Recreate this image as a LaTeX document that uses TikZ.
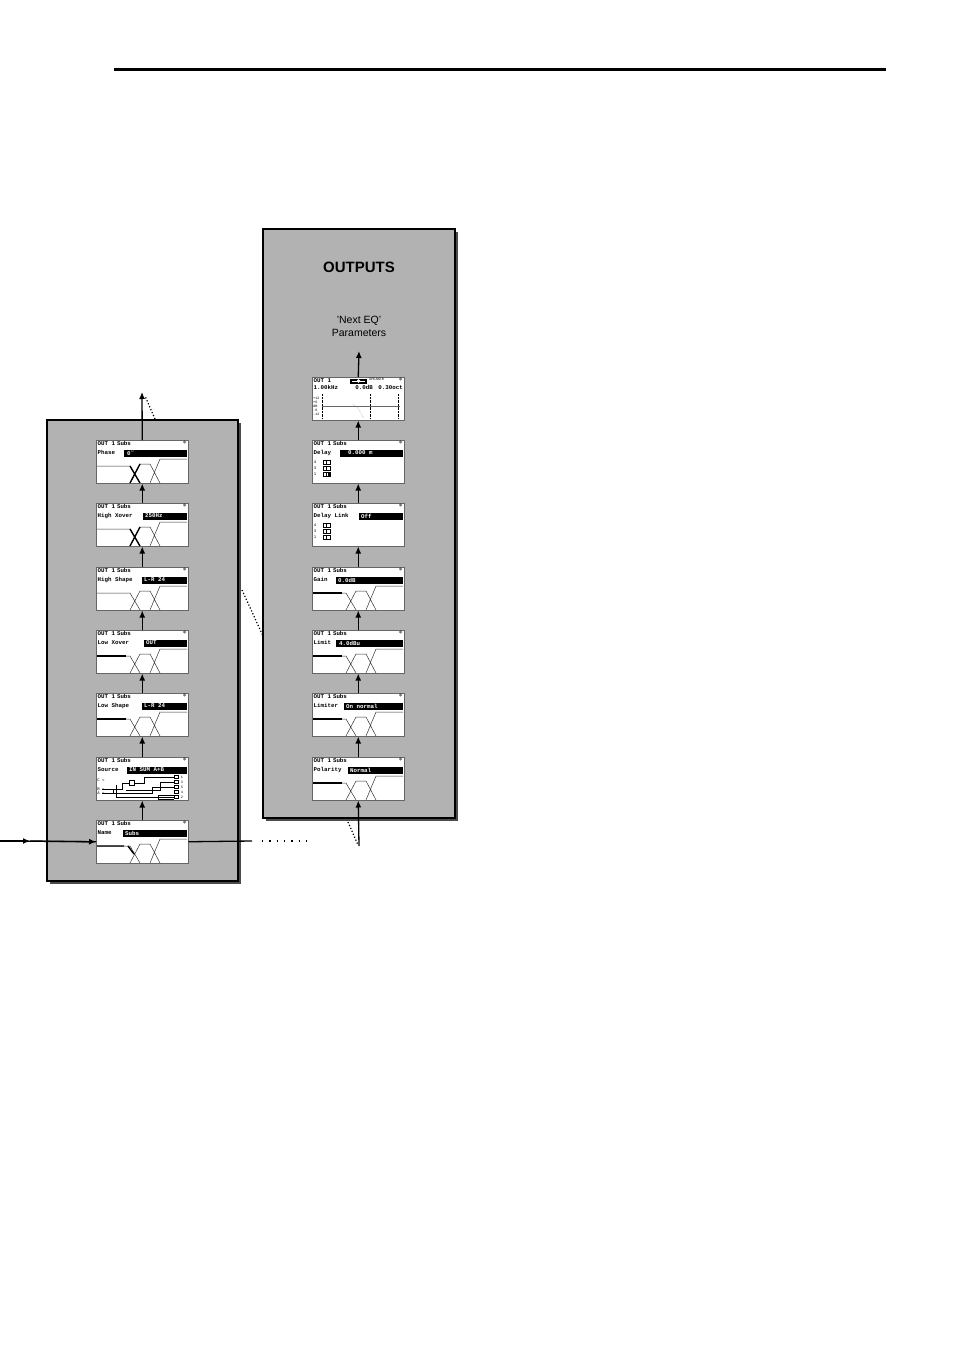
\documentclass[tikz,border=0pt]{standalone}
\usepackage{fontspec}
\setmainfont{Liberation Sans}
\newfontfamily\lcdf{Liberation Mono}
\begin{document}
\begin{tikzpicture}[x=1pt,y=-1pt,
 panel/.style={fill=black!30,draw=black,line width=2pt},
 shadow/.style={fill=black!70},
 lcdbox/.style={draw=black!60,fill=white,line width=0.5pt,anchor=north west,minimum width=92pt,minimum height=43pt,inner sep=0pt},
 lcdt/.style={font=\lcdf\bfseries\fontsize{5.8}{6}\selectfont,inner sep=0pt},
 flow/.style={line width=1.3pt,-{Latex[length=7pt,width=6pt]}},
 dots/.style={line width=1.2pt,dotted},
 crv/.style={line width=0.5pt,black!80},
 thk/.style={line width=1.4pt}]
\usetikzlibrary{arrows.meta}
\useasboundingbox (0,0) rectangle (954,1351);
\fill[white] (0,0) rectangle (954,1351);
\draw[line width=3pt] (114,70) -- (886,70);
% panels
\fill[shadow] (50,423) rectangle (241,884);
\draw[panel] (47,420) rectangle (238,881);
\fill[shadow] (266,232) rectangle (458,821);
\draw[panel] (263,229) rectangle (455,818);
\node[font=\bfseries\fontsize{15}{16}\selectfont] (title) at (359,267) {OUTPUTS};
\node[font=\fontsize{10.5}{13}\selectfont,align=center] (sub) at (359,326) {'Next EQ'\\Parameters};
\newcommand\lcd[7]{%
 \node[lcdbox] (#1) at (#2,#3) {};
 \begin{scope}[shift={(#2,#3)}]
 \node[lcdt,anchor=north west] at (1.5,1.5) {OUT 1\,\,Subs};
 \node[lcdt,anchor=north east,font=\fontsize{8}{8}\selectfont] at (91,0.5) {$\ast$};
 \node[lcdt,anchor=north west] at (1.5,10) {#4};
 \fill (#6,9.5) rectangle (91,16.5);
 \node[lcdt,anchor=west,text=white] at (#6+2,13) {#5};
 \ifnum#7>0
 \draw[crv] (1,26)--(34,26)--(44,43) (34,43)--(44,24)--(54,24)--(64,43) (54,43)--(64,19)--(91,19);
 \fi
 \ifnum#7=2 \draw[thk] (1,26)--(30,26); \fi
 \ifnum#7=3 \draw[thk] (34,26)--(44,43) (34,43)--(44,24); \fi
 \ifnum#7=4 \draw[thk] (1,26)--(28,26) (32,26)--(38,34); \fi
 \end{scope}}
% left column
\lcd{lp}{96}{440}{Phase}{\,0$^\circ$}{28}{3}
\lcd{lhx}{96}{503}{High Xover}{250Hz}{47}{3}
\lcd{lhs}{96}{567}{High Shape}{L-R 24}{46}{1}
\lcd{llx}{96}{630}{Low Xover}{OUT}{48}{2}
\lcd{lls}{96}{693}{Low Shape}{L-R 24}{46}{2}
\lcd{lsrc}{96}{757}{Source}{IN SUM A+B}{31}{0}
\lcd{lname}{96}{820}{Name}{Subs}{27}{4}
% source routing sketch
\begin{scope}[shift={(96,757)},line width=0.5pt]
 \node[lcdt,anchor=west,font=\lcdf\fontsize{4}{4}\selectfont] at (1,23) {C =};
 \node[lcdt,anchor=west,font=\lcdf\fontsize{4}{4}\selectfont] at (1,32) {B =};
 \node[lcdt,anchor=west,font=\lcdf\fontsize{4}{4}\selectfont] at (1,36) {A =};
 \draw (6,32)--(26,32)--(26,26)--(33,26); \draw (33,23) rectangle (38,28);
 \draw (38,26)--(48,26)--(48,20)--(78,20);
 \draw (6,36)--(56,36)--(56,30)--(78,30);
 \draw (17,32)--(17,36)--(20,36) (20,28)--(20,40)--(78,40);
 \draw (30,33)--(64,33)--(64,25)--(78,25);
 \draw (62,38)--(78,38) (62,38)--(62,42)--(78,42);
 \foreach \yy in {20,25,30,35,40} \draw (78,\yy-1.5) rectangle (82,\yy+1.5);
 \foreach \yy/\tt in {20/1,25/3,30/5,35/4,40/2} \node[lcdt,font=\lcdf\fontsize{3.5}{4}\selectfont] at (86,\yy) {\tt};
\end{scope}
% right column
\node[lcdbox] (req) at (312,377) {};
\begin{scope}[shift={(312,377)}]
 \node[lcdt,anchor=north west] at (1.5,1.5) {OUT 1};
 \fill (38,1.5) rectangle (55,7); \draw[white,line width=0.5pt] (40,4)--(53,4); \draw[white,fill=white] (46.5,4) circle (1.5);
 \node[lcdt,anchor=north west,font=\lcdf\fontsize{3.5}{4}\selectfont] at (57,1) {SPEAKER};
 \node[lcdt,anchor=north east,font=\fontsize{8}{8}\selectfont] at (91,0.5) {$\ast$};
 \node[lcdt,anchor=north west] at (1.5,8.5) {1.00kHz};
 \node[lcdt,anchor=north east] at (61,8.5) {0.0dB};
 \node[lcdt,anchor=north east] at (91,8.5) {0.30oct};
 \draw[black!60,line width=0.8pt] (10,29)--(88,29);
 \draw[line width=0.4pt,densely dotted] (10,17)--(10,42) (58,17)--(58,42) (86,17)--(86,42);
 \draw[black!50,densely dotted] (40,27)--(46,31)--(52,42);
 \node[lcdt,anchor=west,font=\lcdf\fontsize{3.5}{4}\selectfont,align=left] at (1,29) {+12\\+6\\dB\\-6\\-12};
\end{scope}
\lcd{rdel}{312}{440}{Delay}{\hspace{6pt}0.000 m}{28}{0}
\lcd{rdl}{312}{503}{Delay Link}{Off}{47}{0}
\foreach \sy in {440,503}{
 \begin{scope}[shift={(312,\sy)},line width=0.5pt]
 \foreach \yy/\tt in {22/4,28/3,34/1}{
  \node[lcdt,font=\lcdf\fontsize{4}{4}\selectfont] at (3,\yy) {\tt};
  \draw (11,\yy-2) rectangle (14,\yy+2) (14,\yy-2) rectangle (18,\yy+2);}
 \end{scope}}
\fill (328,472) rectangle (330,476);
\lcd{rg}{312}{567}{Gain}{0.0dB}{24}{2}
\lcd{rlim}{312}{630}{Limit}{\,4.0dBu}{24}{2}
\lcd{rlmr}{312}{693}{Limiter}{On normal}{32}{2}
\lcd{rpol}{312}{757}{Polarity}{Normal}{36}{2}
% flows left
\draw[flow] (lname.north) -- (lsrc.south);
\draw[flow] (lsrc.north) -- (lls.south);
\draw[flow] (lls.north) -- (llx.south);
\draw[flow] (llx.north) -- (lhs.south);
\draw[flow] (lhs.north) -- (lhx.south);
\draw[flow] (lhx.north) -- (lp.south);
\coordinate (ltop) at (142,392);
\draw[flow] (lp.north) -- (ltop);
\coordinate (ld1) at (155,419); \coordinate (ld2) at (145,396);
\draw[dots] (ld1) -- (ld2);
% flows right
\draw[flow] (rpol.north) -- (rlmr.south);
\draw[flow] (rlmr.north) -- (rlim.south);
\draw[flow] (rlim.north) -- (rg.south);
\draw[flow] (rg.north) -- (rdl.south);
\draw[flow] (rdl.north) -- (rdel.south);
\draw[flow] (rdel.north) -- (req.south);
\coordinate (rtop) at (359,351);
\draw[flow] (req.north) -- (rtop);
\coordinate (rin) at (359,846);
\draw[flow] (rin) -- (rpol.south);
\coordinate (rd1) at (348,822); \coordinate (rd2) at (358,845);
\draw[dots] (rd1) -- (rd2);
\coordinate (md1) at (242,590); \coordinate (md2) at (263,636);
\draw[dots] (md1) -- (md2);
% input / output
\coordinate (inL) at (0,841);
\coordinate (inM) at (30,841);
\draw[line width=1.3pt] (inL) -- (lname.west);
\draw[flow] (inL) -- (inM);
\draw[flow] (inM) -- (lname.west);
\coordinate (outA) at (252,841); \coordinate (outB) at (262,841); \coordinate (outC) at (310,841);
\draw[line width=1.3pt] (lname.east) -- (outA);
\draw[dots,dash pattern=on 1.3pt off 6pt] (outB) -- (outC);
\end{tikzpicture}
\end{document}
